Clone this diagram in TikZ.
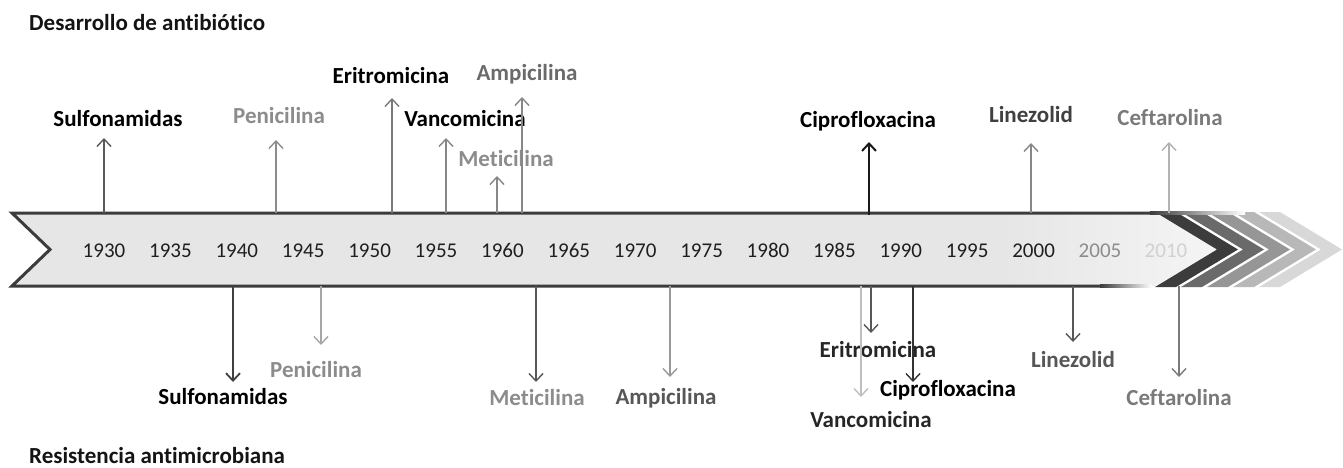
\documentclass[tikz,border=0pt]{standalone}
\usepackage{fontspec}
\setmainfont{Carlito}[Ligatures=NoCommon]
\usetikzlibrary{arrows.meta}
\definecolor{bandfill}{HTML}{E6E6E6}
\definecolor{bordercol}{HTML}{3C3C3C}
\definecolor{chA}{HTML}{3C3C3C}
\definecolor{chB}{HTML}{6A6A6A}
\definecolor{chC}{HTML}{969696}
\definecolor{chD}{HTML}{B8B8B8}
\definecolor{chE}{HTML}{D8D8D8}
\begin{document}
\begin{tikzpicture}[x=1pt,y=-1pt,
  lbl/.style={font=\bfseries\fontsize{23}{23}\selectfont, inner sep=0pt, anchor=base},
  ttl/.style={font=\bfseries\fontsize{23}{23}\selectfont, inner sep=0pt, anchor=base west, text=black!92},
  yr/.style={font=\fontsize{21}{21}\selectfont, inner sep=0pt, anchor=base},
  arr/.style={-{Straight Barb[length=7.5pt,width=14pt]}, line width=1.4pt},
  chev/.style={fill=#1, draw=none}]
\useasboundingbox (0,0) rectangle (1343,468);

% banner body
\begin{scope}
  \clip (12,213) -- (1155,213) -- (1217,249.5) -- (1155,286) -- (12,286) -- (50,249.5) -- cycle;
  \fill[bandfill] (0,200) rectangle (1000,300);
  \shade[left color=bandfill, right color=white!96!black] (1000,200) rectangle (1220,300);
\end{scope}

% chevrons
\foreach \i/\c in {0/chA,1/chB,2/chC,3/chD,4/chE}{
  \pgfmathsetmacro{\xo}{1155+26*\i}
  \fill[chev=\c] (\xo,212) -- (\xo+21,212) -- (\xo+83,249.5) -- (\xo+21,287) -- (\xo,287) -- (\xo+62,249.5) -- cycle;
}

% borders
\draw[line width=3pt, bordercol, line join=miter] (1150,213) -- (12,213) -- (50,249.5) -- (12,286) -- (1100,286);
\shade[left color=bordercol, right color=white] (1150,211.5) rectangle (1245,214.5);
\shade[left color=bordercol, right color=white] (1100,284.5) rectangle (1152,287.5);

% years
\foreach \yy in {1930,1935,...,2000}{
  \pgfmathsetmacro{\xx}{104+(\yy-1930)*13.28}
  \node[yr, text=black!88] (y\yy) at (\xx,257) {\yy};
}
\node[yr, text=black!45] (y2005) at (1100,257) {2005};
\node[yr, text=black!18] (y2010) at (1166,257) {2010};

% titles
\node[ttl] (tdes) at (29,31) {Desarrollo de antibiótico};
\node[ttl] (tres) at (29,463) {Resistencia antimicrobiana};

% upper labels
\node[lbl, text=black] (usulf) at (118,127) {Sulfonamidas};
\node[lbl, text=black!45] (upeni) at (279,124) {Penicilina};
\node[lbl, text=black] (uerit) at (391,84) {Eritromicina};
\node[lbl, text=black] (uvanc) at (465,127) {Vancomicina};
\node[lbl, text=black!45] (umeti) at (506,166) {Meticilina};
\node[lbl, text=black!58] (uampi) at (527,81) {Ampicilina};
\node[lbl, text=black] (ucipr) at (868,128) {Ciprofloxacina};
\node[lbl, text=black!75] (uline) at (1031,123) {Linezolid};
\node[lbl, text=black!52] (uceft) at (1170,126) {Ceftarolina};

% upper arrow ends
\coordinate (ub1) at (104,213); \coordinate (ut1) at (104,138);
\coordinate (ub2) at (276,213); \coordinate (ut2) at (276,140);
\coordinate (ub3) at (392,213); \coordinate (ut3) at (392,98);
\coordinate (ub4) at (446,213); \coordinate (ut4) at (446,138);
\coordinate (ub5) at (497,213); \coordinate (ut5) at (497,176);
\coordinate (ub6) at (522,213); \coordinate (ut6) at (522,97);
\coordinate (ub7) at (869,215); \coordinate (ut7) at (869,142);
\coordinate (ub8) at (1031,213); \coordinate (ut8) at (1031,143);
\coordinate (ub9) at (1169,213); \coordinate (ut9) at (1169,142);

\draw[arr, black!65] (ub1) -- (ut1);
\draw[arr, black!45] (ub2) -- (ut2);
\draw[arr, black!52] (ub3) -- (ut3);
\draw[arr, black!47] (ub4) -- (ut4);
\draw[arr, black!47] (ub5) -- (ut5);
\draw[arr, black!47] (ub6) -- (ut6);
\draw[arr, black!90, line width=2pt] (ub7) -- (ut7);
\draw[arr, black!47] (ub8) -- (ut8);
\draw[arr, black!30] (ub9) -- (ut9);

% lower labels
\node[lbl, text=black] (lsulf) at (223,404) {Sulfonamidas};
\node[lbl, text=black!45] (lpeni) at (316,377) {Penicilina};
\node[lbl, text=black!45] (lmeti) at (537,405) {Meticilina};
\node[lbl, text=black!66] (lampi) at (666,404) {Ampicilina};
\node[lbl, text=black!85] (lerit) at (878,357) {Eritromicina};
\node[lbl, text=black!85] (lvanc) at (871,427) {Vancomicina};
\node[lbl, text=black] (lcipr) at (948,396) {Ciprofloxacina};
\node[lbl, text=black!66] (lline) at (1073,367) {Linezolid};
\node[lbl, text=black!52] (lceft) at (1179,405) {Ceftarolina};

% lower arrow ends
\coordinate (lb1) at (233,286); \coordinate (lt1) at (233,382);
\coordinate (lb2) at (321,286); \coordinate (lt2) at (321,345);
\coordinate (lb3) at (536,286); \coordinate (lt3) at (536,382);
\coordinate (lb4) at (670,286); \coordinate (lt4) at (670,377);
\coordinate (lb5) at (871,286); \coordinate (lt5) at (871,333);
\coordinate (lb6) at (861,286); \coordinate (lt6) at (861,397);
\coordinate (lb7) at (913,286); \coordinate (lt7) at (913,382);
\coordinate (lb8) at (1073,286); \coordinate (lt8) at (1073,342);
\coordinate (lb9) at (1179,286); \coordinate (lt9) at (1179,377);

\draw[arr, black!75, line width=1.8pt] (lb1) -- (lt1);
\draw[arr, black!35] (lb2) -- (lt2);
\draw[arr, black!66] (lb3) -- (lt3);
\draw[arr, black!40] (lb4) -- (lt4);
\draw[arr, black!66] (lb5) -- (lt5);
\draw[arr, black!25] (lb6) -- (lt6);
\draw[arr, black!80] (lb7) -- (lt7);
\draw[arr, black!66] (lb8) -- (lt8);
\draw[arr, black!52] (lb9) -- (lt9);
\end{tikzpicture}
\end{document}
